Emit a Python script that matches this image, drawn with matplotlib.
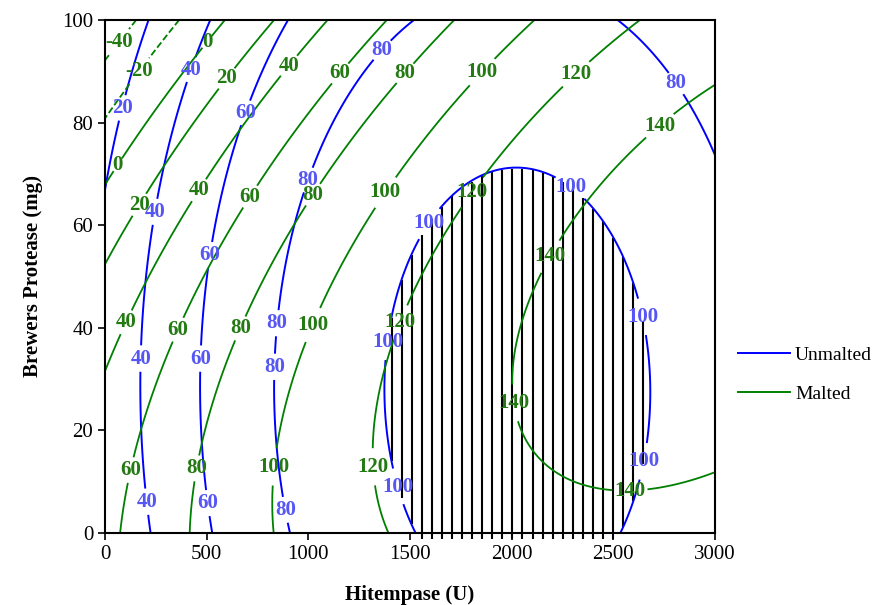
import numpy as np
import matplotlib.pyplot as plt
from matplotlib.lines import Line2D

plt.rcParams['font.family'] = ['Liberation Serif', 'DejaVu Serif']

# points: Hitempase (U), Brewers protease (mg), contour level
unmalted_x = [0, 65, 156, 213,
              516, 467, 402, 303, 262, 230, 213, 180, 175, 197, 221,
              894, 721, 664, 590, 533, 500, 475, 467, 475, 500, 525,
              1508, 1418, 1287, 1123, 1025, 959, 894, 853, 836, 845, 869, 910,
              2533, 2763, 2853, 2992,
              2033, 1828, 1713, 1648, 1500, 1418, 1382, 1386, 1410, 1459, 1516,
              2172, 2353, 2484, 2574, 2615, 2664, 2681, 2664, 2599, 2541]
unmalted_y = [68, 80.5, 92.8, 99.7,
              99.7, 94, 88, 72.7, 65.6, 59.7, 52, 37, 22, 9, 0.6,
              99.7, 84.7, 79.9, 68.2, 57, 53.2, 40.2, 28.5, 15.5, 9, 0.6,
              99.7, 96.7, 90.9, 80.5, 71.4, 64.3, 52, 43.5, 28.5, 15.5, 10.3, 0.6,
              99.7, 90.3, 85, 74,
              71.1, 69.5, 66.2, 63, 53.2, 44.8, 34.4, 24, 12.9, 6.4, 0.6,
              70.1, 64.9, 58.4, 51.6, 46.7, 38.3, 27.2, 16.8, 5.8, 0.3]
unmalted_z = [20] * 4 + [40] * 11 + [60] * 11 + [80] * 16 + [100] * 21

malted_x = [0, 139,
            0, 107, 221, 369,
            0, 148, 451, 549,
            0, 139, 213, 361, 385, 557, 697,
            0, 139, 262, 418, 500, 648, 836, 959, 1090,
            74, 107, 139, 180, 328, 484, 516, 680, 910, 1107, 1213, 1385,
            421, 443, 467, 516, 639, 828, 959, 1123, 1205, 1426, 1549, 1713,
            836, 828, 845, 885, 992, 1057, 1189, 1336, 1516, 1795, 1910, 2107,
            1402, 1336, 1323, 1328, 1361, 1492, 1549, 1754, 1861, 2254, 2386, 2632,
            2992, 2730, 2599, 2353, 2238, 2156, 2058, 2008, 2025, 2107, 2238, 2468,
            2681, 2845, 3000]
malted_y = [92.2, 99.4,
            80.8, 85.7, 92.8, 99.7,
            68.2, 76.6, 93.5, 99.7,
            52.6, 61.7, 66.5, 75.6, 76.6, 86.4, 94.2,
            31.8, 44.1, 53.2, 64.3, 69.5, 76.9, 88, 93.8, 99.7,
            0.6, 9.7, 15.5, 20.7, 37, 49.3, 53.2, 63.3, 76.9, 87, 92.2, 99.7,
            0.6, 10.3, 15.5, 24, 37.6, 52, 63, 70.8, 75.6, 87.3, 92.5, 99.7,
            0.6, 10.3, 16.8, 25.3, 38.3, 43.5, 53.2, 63.6, 74.7, 87, 92.2, 99.7,
            0.6, 10.3, 17.5, 24, 31.8, 44.8, 51.9, 64.3, 69.8, 86.7, 91.9, 99.7,
            87.3, 79.9, 74.7, 64.3, 57.1, 51.9, 41.5, 31.8, 22.7, 16.2, 11, 8.5,
            8.7, 9.7, 12]
malted_z = ([-40] * 2 + [-20] * 4 + [0] * 4 + [20] * 7 + [40] * 9 + [60] * 12
            + [80] * 12 + [100] * 12 + [120] * 12 + [140] * 15)

unmalted_levels = [20, 40, 60, 80, 100]
malted_levels = [-40, -20, 0, 20, 40, 60, 80, 100, 120, 140]


def quad_terms(x, y):
    x = np.asarray(x, dtype=float) / 1000
    y = np.asarray(y, dtype=float) / 100
    return np.stack([np.ones_like(x), x, y, x * x, y * y, x * y], axis=-1)


def fit_surface(x, y, z):
    coef, *_ = np.linalg.lstsq(quad_terms(x, y), np.asarray(z, dtype=float), rcond=None)
    return lambda xx, yy: quad_terms(xx, yy) @ coef


unmalted_fit = fit_surface(unmalted_x, unmalted_y, unmalted_z)
malted_fit = fit_surface(malted_x, malted_y, malted_z)

xs = np.linspace(0, 3000, 601)
ys = np.linspace(0, 100, 401)
gx, gy = np.meshgrid(xs, ys)
zu = unmalted_fit(gx, gy)
zm = malted_fit(gx, gy)

fig = plt.figure(figsize=(8.75, 6.05), dpi=100)
ax = fig.add_axes([0.12, 0.119, 0.697, 0.848])

# vertical hatching inside the unmalted >= 100 region
for hx in np.arange(1410, 2700, 49.5):
    col = unmalted_fit(np.full_like(ys, hx), ys)
    inside = ys[col >= 100]
    if inside.size:
        lo = inside.min()
        if lo <= 0:
            lo = -1.2
        ax.vlines(hx, lo, inside.max(), color='black', lw=1.5, clip_on=False, zorder=1)

cs_u = ax.contour(gx, gy, zu, levels=unmalted_levels, colors='#0000ff', linewidths=1.4, zorder=2)
cs_m = ax.contour(gx, gy, zm, levels=malted_levels, colors='#008000', linewidths=1.3, zorder=2)

blue_labels = [(90, 82.8), (426, 90.3), (246, 62.6), (180, 34), (205, 6.1),
               (697, 81.8), (516, 54.2), (467, 34), (500, 5.8),
               (1361, 94.2), (1000, 68.8), (845, 40.9), (828, 32.4), (885, 4.5), (2812, 87.7),
               (2287, 67.2), (1590, 60.4), (1393, 37.3), (1435, 9), (2648, 42.2), (2656, 13.9)]
green_labels = [(74, 95.5), (172, 89.9), (500, 95.8), (65, 71.7), (598, 88.6), (172, 63.9),
                (910, 90.9), (459, 66.9), (98, 41.2),
                (1164, 89.3), (713, 65.6), (361, 39.6), (123, 12.3),
                (1476, 89.6), (1025, 65.9), (664, 39.9), (451, 12.6),
                (1861, 89.6), (1385, 66.2), (1025, 40.5), (828, 12.9),
                (2320, 89.3), (1803, 66.5), (1443, 41.2), (1320, 12.9),
                (2763, 77.6), (2189, 53.9), (2008, 25.3), (2582, 8.4)]

tu = ax.clabel(cs_u, fmt='%d', manual=blue_labels, inline=True, inline_spacing=2,
               fontsize=15, colors='#5656f4')
tm = ax.clabel(cs_m, fmt='%d', manual=green_labels, inline=True, inline_spacing=2,
               fontsize=15, colors='#237a12')
for t in list(tu) + list(tm):
    t.set_fontweight('bold')
    t.set_rotation(0)

ax.set_xlim(0, 3000)
ax.set_ylim(0, 100)
ax.set_xticks([0, 500, 1000, 1500, 2000, 2500, 3000])
ax.set_yticks([0, 20, 40, 60, 80, 100])
ax.tick_params(direction='out', length=5, width=1.2, labelsize=15)
for s in ax.spines.values():
    s.set_linewidth(1.5)

ax.set_xlabel('Hitempase (U)', fontsize=15, fontweight='bold', labelpad=15)
ax.set_ylabel('Brewers Protease (mg)', fontsize=15, fontweight='bold', labelpad=14)

handles = [Line2D([], [], color='#0000ff', lw=1.4), Line2D([], [], color='#008000', lw=1.4)]
fig.legend(handles, ['Unmalted', 'Malted'], loc='upper left', bbox_to_anchor=(0.843, 0.428),
           frameon=False, fontsize=14, handlelength=2.7, handletextpad=0.25,
           labelspacing=1.1, borderpad=0, borderaxespad=0)

fig.savefig('out.png', dpi=100)
